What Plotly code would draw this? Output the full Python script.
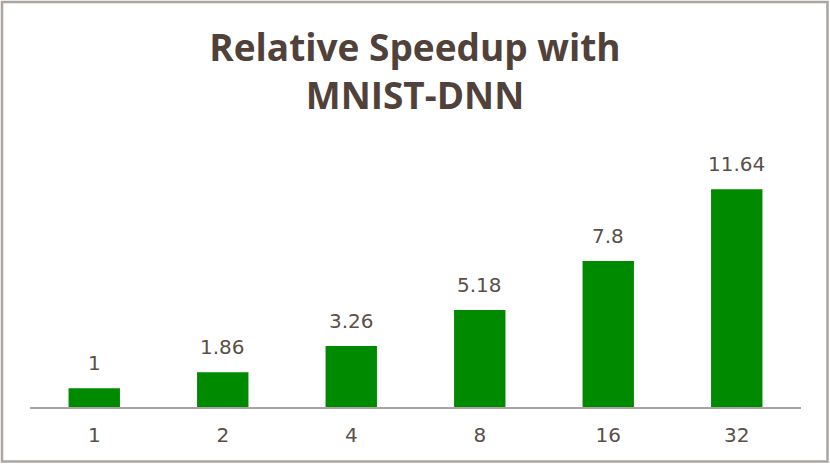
import plotly.graph_objects as go

nodes = ["1", "2", "4", "8", "16", "32"]
speedup = [1, 1.86, 3.26, 5.18, 7.8, 11.64]
speedup_labels = ["1", "1.86", "3.26", "5.18", "7.8", "11.64"]

W, H = 830, 464
L, R, T, B = 30, 29, 145, 57

fig = go.Figure()

fig.add_trace(go.Bar(
    x=nodes, y=speedup,
    marker=dict(color='#008a00', line=dict(width=0)),
    hoverinfo='x+y'))

# value labels above the bars (category index positions)
for i, (v, lab) in enumerate(zip(speedup, speedup_labels)):
    fig.add_annotation(x=i, y=v, text=lab, showarrow=False,
                       yanchor='bottom', yshift=11,
                       font=dict(family='DejaVu Sans', size=20, color='#595049'))

# outer frame, in paper units relative to the plot area
pw, ph = W - L - R, H - T - B
fx0, fx1 = (2 - L) / pw, (W - 2.5 - L) / pw
fy0, fy1 = -(H - 2.5 - (H - B)) / ph, (H - B - 2) / ph
fig.add_shape(type='rect', xref='paper', yref='paper',
              x0=fx0, x1=fx1, y0=fy0, y1=fy1,
              line=dict(color='#aaa5a1', width=2.5), layer='below')

fig.update_layout(
    width=W, height=H,
    title=dict(text='<b>Relative Speedup with<br>MNIST-DNN</b>',
               x=0.5, xanchor='center', y=1 - 61 / H, yanchor='top',
               font=dict(family='Open Sans', size=37, color='#50413a')),
    bargap=0.6,
    plot_bgcolor='white', paper_bgcolor='white',
    showlegend=False,
    margin=dict(l=L, r=R, t=T, b=B),
    xaxis=dict(type='category', showline=True, linecolor='#a9a4a1', linewidth=2,
               ticks='', showgrid=False, ticklabelstandoff=9,
               tickfont=dict(family='DejaVu Sans', size=20, color='#595049')),
    yaxis=dict(range=[0, 14], visible=False, showgrid=False),
)

fig.write_html("out.html", config={'displayModeBar': False},
               post_script="document.body.style.margin='0';")
